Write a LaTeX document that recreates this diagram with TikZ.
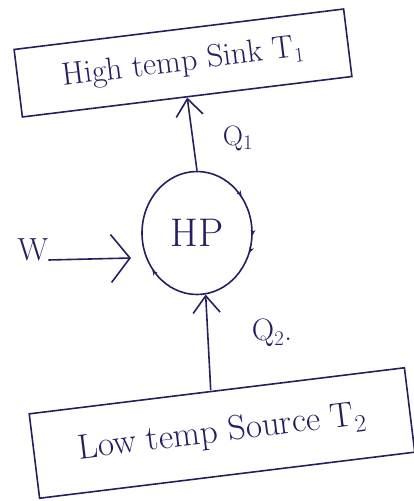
\documentclass[tikz,border=0pt]{standalone}
\usetikzlibrary{arrows.meta,shapes.geometric}
\definecolor{ink}{RGB}{40,30,95}
\begin{document}
\begin{tikzpicture}[x=1pt,y=-1pt,
  ink line/.style={draw=ink,line width=1.6pt},
  tempbox/.style={ink line,rectangle,inner sep=0pt,rotate=7,text=ink},
  barb/.style={-{Straight Barb[length=17pt,width=27pt,line width=1.6pt]}},
  cyc/.style={draw=ink,line width=0.8pt,-{Stealth[length=5pt,width=5pt]}},
  lbl/.style={text=ink,inner sep=0pt}]
\useasboundingbox (0,0) rectangle (414,501);
\node[tempbox,minimum width=332pt,minimum height=68pt,
      font=\fontsize{32}{38}\selectfont] (sink) at (183,63) {High temp Sink T$_1$};
\node[tempbox,minimum width=378pt,minimum height=85pt,
      font=\fontsize{35}{42}\selectfont] (source) at (222,433) {Low temp Source T$_2$};
\node[ellipse,ink line,minimum width=110pt,minimum height=123pt,inner sep=0pt,
      text=ink,font=\fontsize{40}{46}\selectfont] (hp) at (197,233) {HP};
% direction marks on the cycle
\draw[cyc] (hp.40) ++(-1.6,-1.9) -- (hp.40);
\draw[cyc] (hp.-2) ++(0.1,-2.5) -- (hp.-2);
\draw[cyc] (hp.-20) ++(0.8,-2.4) -- (hp.-20);
\draw[cyc] (hp.220) ++(1.6,1.9) -- (hp.220);
\node[lbl,font=\fontsize{32}{38}\selectfont] (w) at (33,250) {W};
\coordinate (wtip) at (131,258);
\draw[ink line,-{Straight Barb[length=19pt,width=48pt,line width=1.6pt]}]
  ([yshift=-10pt]w.east) -- (wtip);
\draw[ink line,barb] (hp.north) -- (sink.south);
\draw[ink line,barb] ([xshift=-6pt]source.north) -- (hp.-82);
\node[lbl,font=\fontsize{28}{34}\selectfont] (q1) at (238,138) {Q$_1$};
\node[lbl,font=\fontsize{31}{36}\selectfont] (q2) at (272,333) {Q$_2$.};
\end{tikzpicture}
\end{document}
